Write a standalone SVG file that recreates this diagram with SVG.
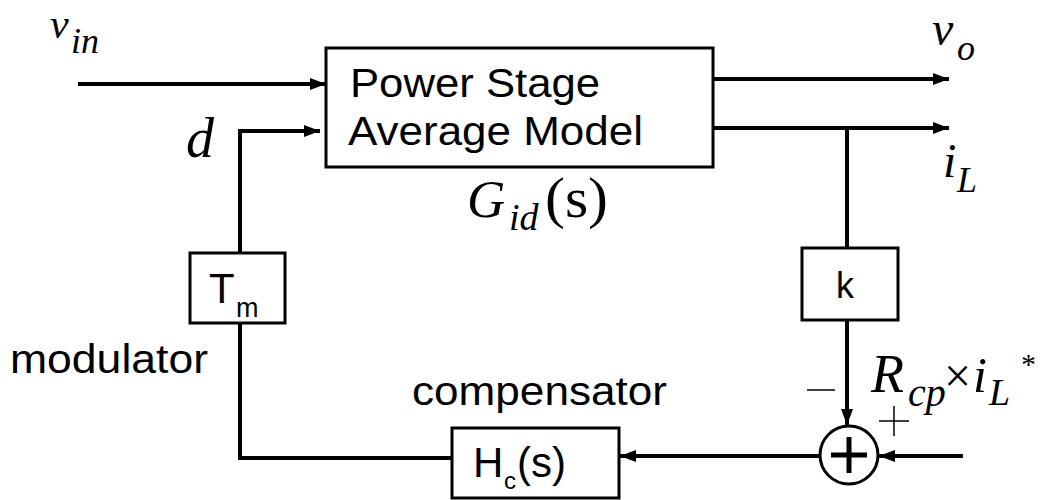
<svg xmlns="http://www.w3.org/2000/svg" width="1040" height="500" viewBox="0 0 1040 500">
<defs>
<style>
.box{fill:#fff;stroke:#000;stroke-width:3}
.ln{fill:none;stroke:#000;stroke-width:4}
.sans{font-family:"Liberation Sans",Arial,sans-serif;fill:#000}
.math{font-family:"Liberation Serif","Times New Roman",serif;font-style:italic;fill:#000}
.rom{font-family:"Liberation Serif","Times New Roman",serif;fill:#000}
</style>
<marker id="ah" viewBox="0 0 16 12" refX="16" refY="6" markerWidth="16" markerHeight="12" markerUnits="userSpaceOnUse" orient="auto">
<path d="M0,0 L16,6 L0,12 Z" fill="#000"/>
</marker>
</defs>
<rect width="1040" height="500" fill="#fff"/>

<g id="connectors">
<line class="ln" x1="78" y1="84" x2="326" y2="84" marker-end="url(#ah)"/>
<polyline class="ln" points="240,253 240,131 320,131" marker-end="url(#ah)"/>
<line class="ln" x1="713" y1="79" x2="949" y2="79" marker-end="url(#ah)"/>
<line class="ln" x1="713" y1="128" x2="949" y2="128" marker-end="url(#ah)"/>
<line class="ln" x1="847" y1="128" x2="847" y2="248"/>
<line class="ln" x1="847" y1="320" x2="847" y2="425" marker-end="url(#ah)"/>
<line class="ln" x1="963" y1="456" x2="879" y2="456" marker-end="url(#ah)"/>
<line class="ln" x1="819" y1="456" x2="620" y2="456" marker-end="url(#ah)"/>
<polyline class="ln" points="452,458 240,458 240,323"/>
</g>

<g id="power-stage">
<rect class="box" x="326" y="48" width="387" height="119"/>
<text class="sans" x="350" y="97" font-size="40" textLength="250" lengthAdjust="spacingAndGlyphs">Power Stage</text>
<text class="sans" x="348" y="145" font-size="40" textLength="295" lengthAdjust="spacingAndGlyphs">Average Model</text>
</g>

<g id="gid-label">
<text x="467" y="217"><tspan class="math" font-size="53">G</tspan><tspan class="math" font-size="38" x="509" dy="13">id</tspan><tspan class="rom" font-size="56" x="545" dy="-13" textLength="63" lengthAdjust="spacingAndGlyphs">(s)</tspan></text>
</g>

<g id="vin-label">
<text x="50" y="38"><tspan class="math" font-size="42">v</tspan><tspan class="math" font-size="36" x="71" dy="15">in</tspan></text>
</g>

<g id="d-label">
<text class="math" x="186" y="157" font-size="56">d</text>
</g>

<g id="vo-label">
<text x="932" y="45"><tspan class="math" font-size="48">v</tspan><tspan class="math" font-size="36" x="957" dy="15">o</tspan></text>
</g>

<g id="il-label">
<text x="943" y="177"><tspan class="math" font-size="48">i</tspan><tspan class="math" font-size="36" x="957" dy="15">L</tspan></text>
</g>

<g id="tm">
<rect class="box" x="190" y="253" width="95" height="70"/>
<text x="209" y="303"><tspan class="sans" font-size="42">T</tspan><tspan class="sans" font-size="27" x="236" dy="14">m</tspan></text>
</g>

<g id="modulator-label">
<text class="sans" x="10" y="373" font-size="40" textLength="198" lengthAdjust="spacingAndGlyphs">modulator</text>
</g>

<g id="k">
<rect class="box" x="802" y="248" width="96" height="72"/>
<text class="sans" x="836" y="298" font-size="36">k</text>
</g>

<g id="sum">
<circle cx="849" cy="455" r="29" fill="#fff" stroke="#000" stroke-width="3"/>
<line x1="831" y1="455" x2="867" y2="455" stroke="#000" stroke-width="5"/>
<line x1="849" y1="437" x2="849" y2="473" stroke="#000" stroke-width="5"/>
</g>

<g id="sign-labels">
<line x1="807" y1="390" x2="835" y2="390" stroke="#000" stroke-width="1.5"/>
<line x1="879" y1="421" x2="909" y2="421" stroke="#000" stroke-width="1.5"/>
<line x1="894" y1="406" x2="894" y2="436" stroke="#000" stroke-width="1.5"/>
</g>

<g id="ref-label">
<text x="871" y="392"><tspan class="math" font-size="54">R</tspan><tspan class="math" font-size="40" x="908" dy="14">cp</tspan><tspan class="rom" font-size="48" x="944" dy="-14">×</tspan><tspan class="math" font-size="50" x="973">i</tspan><tspan class="math" font-size="38" x="989" dy="13">L</tspan><tspan class="rom" font-size="30" x="1021" dy="-31">*</tspan></text>
</g>

<g id="hc">
<rect class="box" x="452" y="428" width="167" height="70"/>
<text x="473" y="477"><tspan class="sans" font-size="42">H</tspan><tspan class="sans" font-size="24" x="504" dy="12">c</tspan><tspan class="sans" font-size="42" x="517" dy="-12">(s)</tspan></text>
</g>

<g id="compensator-label">
<text class="sans" x="412" y="405" font-size="40" textLength="255" lengthAdjust="spacingAndGlyphs">compensator</text>
</g>
</svg>
